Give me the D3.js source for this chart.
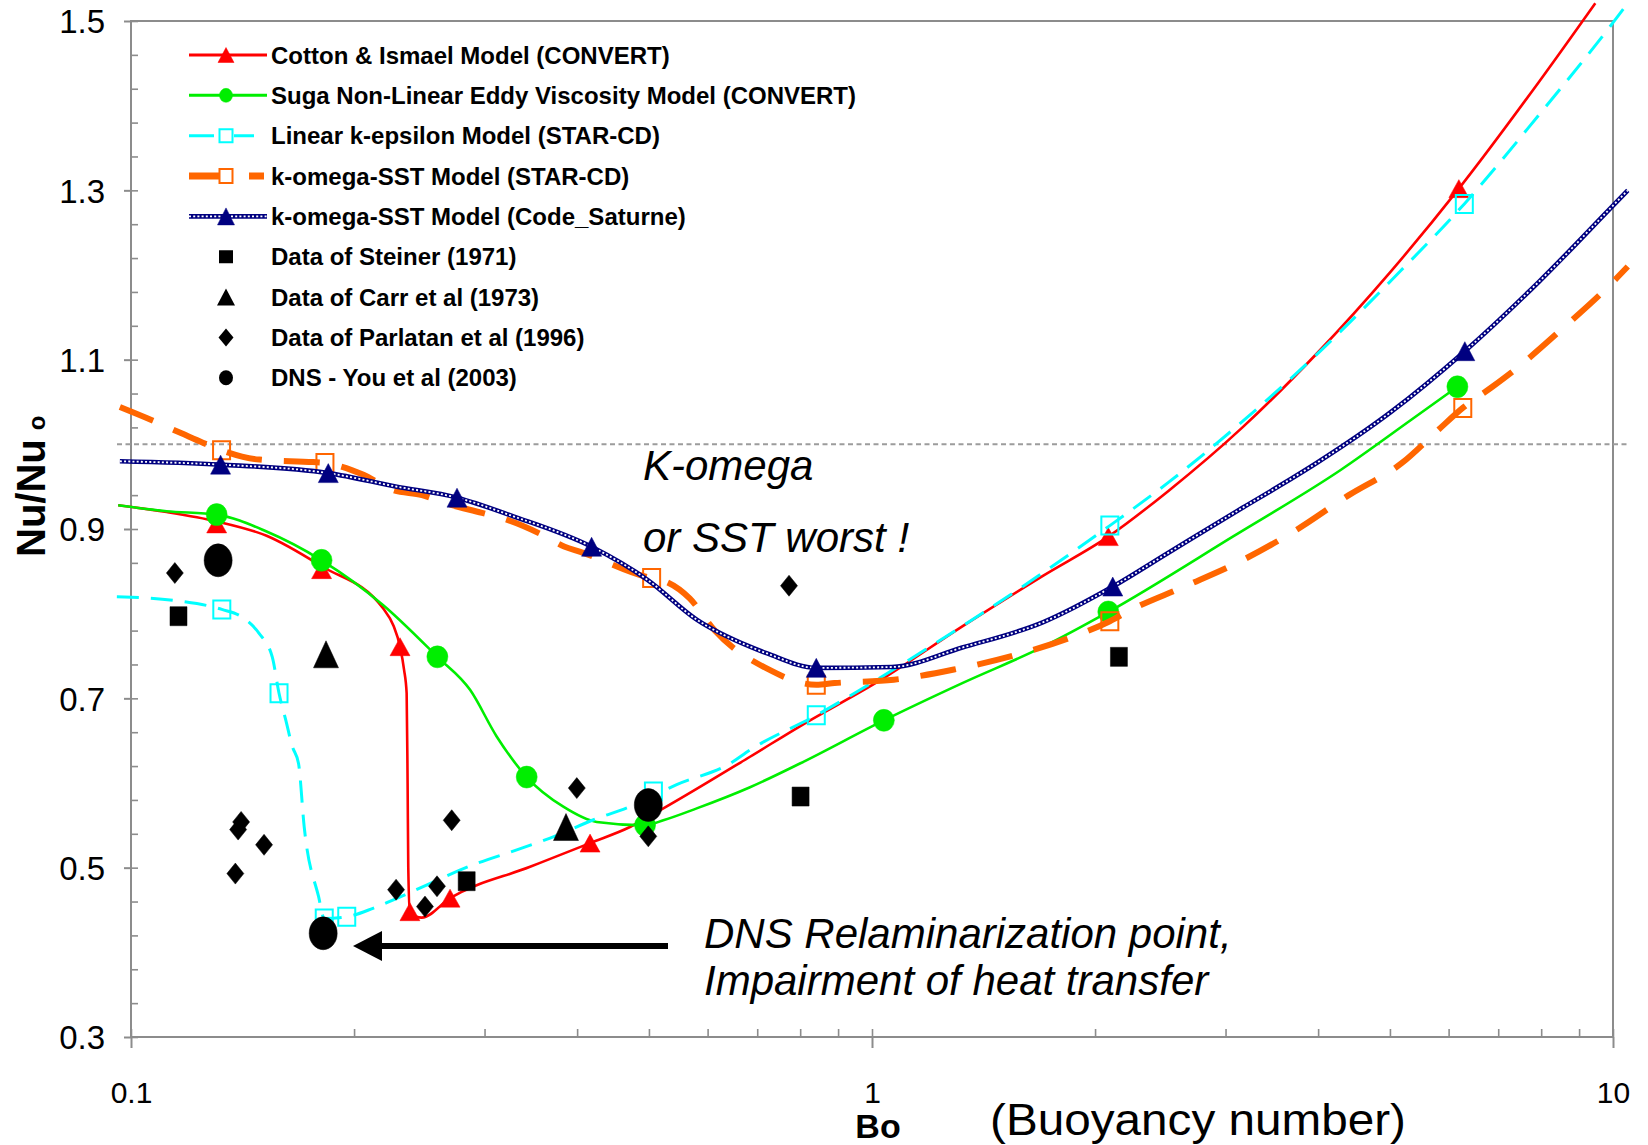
<!DOCTYPE html>
<html>
<head>
<meta charset="utf-8">
<script src="https://cdn.jsdelivr.net/npm/d3@7"></script>
<style>
  html, body { margin: 0; padding: 0; background: #fff; }
  svg { display: block; }
</style>
</head>
<body>
<svg id="chart" width="1648" height="1145"></svg>
<script>
// ── Data: [Bo, Nu/Nu0] ──────────────────────────────────
const cottonLine = [[0.0961,0.928],[0.1117,0.920],[0.1305,0.909],[0.1524,0.892],[0.1808,0.856],[0.219,0.806],
  [0.226,0.786],[0.2307,0.761],[0.2336,0.734],[0.2355,0.706],[0.2362,0.60],[0.2367,0.50],[0.2379,0.446],
  [0.2468,0.441],[0.2695,0.464],[0.3456,0.501],[0.4164,0.529],[0.4714,0.548],[0.5229,0.570],[0.6845,0.631],
  [0.7993,0.667],[1.029,0.722],[1.324,0.785],[1.703,0.845],[2.084,0.891],[2.512,0.945],[3.162,1.020],
  [3.981,1.107],[5.012,1.204],[6.194,1.302],[7.943,1.428],[9.465,1.521]];
const cottonPts = [[0.1305,0.906],[0.1808,0.852],[0.2307,0.761],[0.2379,0.448],[0.2695,0.464],[0.4164,0.529],[2.084,0.891],[6.194,1.302]];

const sugaLine = [[0.0961,0.928],[0.1117,0.921],[0.1305,0.917],[0.1524,0.897],[0.1808,0.863],[0.219,0.810],
  [0.2591,0.749],[0.2868,0.710],[0.3115,0.655],[0.342,0.607],[0.3832,0.572],[0.4251,0.554],[0.494,0.550],
  [0.5229,0.556],[0.580,0.570],[0.6845,0.595],[0.7993,0.623],[1.0375,0.674],[1.324,0.718],[1.703,0.761],
  [2.084,0.802],[3.068,0.891],[4.295,0.970],[5.343,1.029],[6.166,1.068]];
const sugaPts = [[0.1305,0.917],[0.1808,0.863],[0.2591,0.749],[0.342,0.607],[0.494,0.550],[1.0375,0.674],[2.084,0.802],[6.166,1.068]];

const kepsLine = [[0.0957,0.820],[0.1159,0.815],[0.1326,0.805],[0.1418,0.795],[0.1488,0.777],[0.1551,0.749],
  [0.1584,0.706],[0.1618,0.674],[0.1651,0.643],[0.1683,0.623],[0.1713,0.548],[0.1791,0.466],[0.1823,0.440],
  [0.1955,0.442],[0.2121,0.452],[0.226,0.462],[0.2928,0.505],[0.3316,0.521],[0.3678,0.535],[0.4251,0.558],
  [0.4714,0.572],[0.507,0.585],[0.545,0.598],[0.6433,0.623],[0.6845,0.639],[0.841,0.680],[1.178,0.757],
  [1.647,0.840],[2.094,0.904],[2.512,0.955],[3.162,1.027],[3.981,1.106],[5.012,1.193],[6.30,1.284],
  [7.943,1.389],[10.0,1.498],[10.47,1.521]];
const kepsPts = [[0.1326,0.805],[0.1584,0.706],[0.1823,0.440],[0.1955,0.442],[0.507,0.590],[0.841,0.680],[2.094,0.904],[6.30,1.284]];

const sstStarLine = [[0.0966,1.044],[0.105,1.031],[0.117,1.013],[0.125,1.002],[0.1325,0.993],[0.149,0.982],
  [0.176,0.979],[0.1827,0.978],[0.206,0.964],[0.2256,0.946],[0.247,0.940],[0.2665,0.930],[0.2977,0.919],
  [0.3214,0.911],[0.3592,0.893],[0.3849,0.879],[0.404,0.873],[0.5042,0.842],[0.5186,0.840],[0.5675,0.818],
  [0.6135,0.780],[0.722,0.735],[0.841,0.716],[0.89,0.718],[1.07,0.722],[1.29,0.734],[1.56,0.751],
  [1.87,0.773],[2.094,0.791],[2.23,0.804],[2.64,0.832],[3.16,0.863],[3.74,0.899],[4.40,0.940],[5.19,0.978],
  [5.81,1.017],[6.27,1.043],[6.874,1.068],[7.417,1.090],[8.554,1.137],[9.95,1.190],[10.47,1.210]];
const sstStarPts = [[0.1325,0.993],[0.1827,0.978],[0.5042,0.842],[0.841,0.716],[2.094,0.791],[6.27,1.043]];

const saturneLine = [[0.0966,0.980],[0.1321,0.976],[0.1846,0.966],[0.2284,0.950],[0.2754,0.937],[0.3281,0.915],
  [0.4184,0.879],[0.4977,0.840],[0.580,0.793],[0.6845,0.761],[0.722,0.753],[0.841,0.736],[1.064,0.737],
  [1.324,0.760],[1.703,0.790],[2.113,0.832],[2.512,0.872],[3.162,0.925],[3.548,0.951],[3.981,0.978],
  [5.012,1.038],[6.31,1.110],[7.943,1.192],[10.0,1.282],[10.47,1.300]];
const saturnePts = [[0.1321,0.976],[0.1846,0.966],[0.2754,0.937],[0.4184,0.879],[0.841,0.736],[2.113,0.832],[6.31,1.110]];

const steinerPts  = [[0.1159,0.797],[0.2838,0.484],[0.801,0.584],[2.154,0.749]];
const carrPts     = [[0.1833,0.752],[0.3864,0.548]];
const parlatanPts = [[0.1146,0.848],[0.1408,0.554],[0.1395,0.545],[0.1512,0.527],[0.1383,0.493],[0.2279,0.474],
  [0.2493,0.454],[0.2588,0.478],[0.2709,0.556],[0.3996,0.594],[0.4990,0.537],[0.7727,0.833]];
const dnsPts      = [[0.1311,0.863],[0.1817,0.4225],[0.499,0.574]];

const legendLabels = [
  'Cotton & Ismael Model (CONVERT)',
  'Suga Non-Linear Eddy Viscosity Model (CONVERT)',
  'Linear k-epsilon Model (STAR-CD)',
  'k-omega-SST Model (STAR-CD)',
  'k-omega-SST Model (Code_Saturne)',
  'Data of Steiner (1971)',
  'Data of Carr et al (1973)',
  'Data of Parlatan et al (1996)',
  'DNS - You et al (2003)'
];
const xTicks = [0.1, 1, 10];
const yTicks = [0.3, 0.5, 0.7, 0.9, 1.1, 1.3, 1.5];
const notesTop = ['K-omega', 'or SST worst !'];
const notesDns = ['DNS Relaminarization point,', 'Impairment of heat transfer'];

// ── Layout ──────────────────────────────────────────────
const W = 1648, H = 1145;
const m = { l: 131, r: 35, t: 21, b: 108 };
const FONT = "'Liberation Sans', Arial, Helvetica, sans-serif";
const GRAY = '#8c8c8c';

const svg = d3.select('#chart');
svg.append('rect').attr('width', W).attr('height', H).attr('fill', '#fff');

const x = d3.scaleLog().domain([0.1, 10]).range([m.l, W - m.r]);
const y = d3.scaleLinear().domain([0.3, 1.5]).range([H - m.b, m.t]);

// ── Marker shapes (bbox centred) ────────────────────────
const shapes = {
  triangle: (w, h) => `M0,${-h/2}L${w/2},${h/2}L${-w/2},${h/2}Z`,
  square:   (w, h) => `M${-w/2},${-h/2}h${w}v${h}h${-w}Z`,
  diamond:  (w, h) => `M0,${-h/2}L${w/2},0L0,${h/2}L${-w/2},0Z`,
  circle:   (w, h) => `M${-w/2},0a${w/2},${h/2} 0 1,0 ${w},0a${w/2},${h/2} 0 1,0 ${-w},0Z`
};

// ── Frame, ticks, reference line ────────────────────────
svg.append('rect')
  .attr('x', m.l).attr('y', m.t)
  .attr('width', x.range()[1] - m.l).attr('height', y.range()[0] - m.t)
  .attr('fill', 'none').attr('stroke', GRAY).attr('stroke-width', 2);

svg.append('line')
  .attr('x1', m.l - 14).attr('x2', x.range()[1] + 14)
  .attr('y1', y(1)).attr('y2', y(1))
  .attr('stroke', '#9c9c9c').attr('stroke-width', 2).attr('stroke-dasharray', '5,3.5');

const gx = svg.append('g').attr('transform', `translate(0,${y.range()[0]})`)
  .call(d3.axisBottom(x).tickValues(xTicks).tickSize(11).tickFormat(d3.format('~g')));
gx.select('.domain').remove();
gx.selectAll('line').attr('stroke', GRAY).attr('stroke-width', 2);
gx.selectAll('text').attr('y', 66).attr('dy', null)
  .attr('font-family', FONT).attr('font-size', 30).attr('fill', '#000');

const gxi = svg.append('g').attr('transform', `translate(0,${y.range()[0]})`)
  .call(d3.axisTop(x).tickValues(x.ticks()).tickSize(8).tickFormat(''));
gxi.select('.domain').remove();
gxi.selectAll('line').attr('stroke', GRAY).attr('stroke-width', 1.6);

const gy = svg.append('g').attr('transform', `translate(${m.l},0)`)
  .call(d3.axisLeft(y).tickValues(yTicks).tickSize(7).tickPadding(19).tickFormat(d3.format('.1f')));
gy.select('.domain').remove();
gy.selectAll('line').attr('stroke', GRAY).attr('stroke-width', 2);
gy.selectAll('text').attr('font-family', FONT).attr('font-size', 33).attr('fill', '#000').attr('dy', '0.36em');

const yMinor = d3.range(0, 31).map(i => +(0.3 + i * 0.04).toFixed(2));
const gyi = svg.append('g').attr('transform', `translate(${m.l},0)`)
  .call(d3.axisRight(y).tickValues(yMinor).tickSize(7).tickFormat(''));
gyi.select('.domain').remove();
gyi.selectAll('line').attr('stroke', GRAY).attr('stroke-width', 1.6);

// ── Axis titles ─────────────────────────────────────────
svg.append('text').attr('x', 878).attr('y', 1138).attr('text-anchor', 'middle')
  .attr('font-family', FONT).attr('font-weight', 'bold').attr('font-size', 34).text('Bo');
svg.append('text').attr('x', 990).attr('y', 1135)
  .attr('font-family', FONT).attr('font-size', 44)
  .attr('textLength', 416).attr('lengthAdjust', 'spacingAndGlyphs')
  .text('(Buoyancy number)');

const yl = svg.append('text').attr('transform', 'translate(45,557) rotate(-90)')
  .attr('font-family', FONT).attr('font-weight', 'bold').attr('font-size', 40);
yl.append('tspan').text('Nu/Nu');
yl.append('tspan').attr('dx', 9).attr('font-size', 24).text('o');

// ── Model series ────────────────────────────────────────
const models = [
  { line: cottonLine,  pts: cottonPts,  color: '#ff0000', width: 2.6, shape: 'triangle', mw: 20, mh: 18, fill: true },
  { line: sugaLine,    pts: sugaPts,    color: '#00ee00', width: 2.6, shape: 'circle',   mw: 21, mh: 22, fill: true },
  { line: kepsLine,    pts: kepsPts,    color: '#00ffff', width: 3,   dash: '22,12', shape: 'square', mw: 17, mh: 18, fill: false },
  { line: sstStarLine, pts: sstStarPts, color: '#ff6600', width: 6,   dash: '36,22', shape: 'square', mw: 17, mh: 18, fill: false },
  { line: saturneLine, pts: saturnePts, color: '#000080', width: 4.6, chain: true, shape: 'triangle', mw: 20, mh: 19, fill: true }
];

const lineGen = d3.line().x(d => x(d[0])).y(d => y(d[1])).curve(d3.curveMonotoneX);

function strokeLine(g, d, s) {
  const p = g.append('path').attr('d', d).attr('fill', 'none')
    .attr('stroke', s.color).attr('stroke-width', s.width);
  if (s.dash) p.attr('stroke-dasharray', s.dash);
  if (s.chain) {
    g.append('path').attr('d', d).attr('fill', 'none')
      .attr('stroke', '#fff').attr('stroke-width', 1.8).attr('stroke-dasharray', '2,2.2');
  }
}

function drawMarkers(g, pts, shape, w, h, color, fill) {
  g.selectAll(null).data(pts).join('path')
    .attr('transform', d => `translate(${x(d[0])},${y(d[1])})`)
    .attr('d', shapes[shape](w, h))
    .attr('fill', fill ? color : 'none')
    .attr('stroke', color).attr('stroke-width', fill ? 0.5 : 2);
}

const gSeries = svg.append('g');
models.forEach(s => {
  const g = gSeries.append('g');
  strokeLine(g, lineGen(s.line), s);
  drawMarkers(g, s.pts, s.shape, s.mw, s.mh, s.color, s.fill);
});

// ── Experimental / DNS data ─────────────────────────────
const dataSets = [
  { pts: steinerPts,  shape: 'square',   mw: 17, mh: 19 },
  { pts: carrPts,     shape: 'triangle', mw: 25, mh: 27 },
  { pts: parlatanPts, shape: 'diamond',  mw: 17, mh: 21 },
  { pts: dnsPts,      shape: 'circle',   mw: 28, mh: 33 }
];
dataSets.forEach(s => drawMarkers(svg.append('g'), s.pts, s.shape, s.mw, s.mh, '#000', true));

// ── Legend ──────────────────────────────────────────────
const legY0 = 55, legDY = 40.35, legX1 = 189, legX2 = 267, legMX = 226, legTX = 271;
const legStyles = [
  { ...models[0], lw: 3 },
  { ...models[1], lw: 3 },
  { ...models[2], lw: 3, x2: 255, dash: '25,20,20' },
  { ...models[3], lw: 7, dash: '37,23,15,10' },
  { ...models[4], lw: 4.6 }
];
const legMarks = [[16, 15], [13, 14], [13, 13], [13, 14], [17, 17]];
const legData = [['square', 14, 13], ['triangle', 18, 17], ['diamond', 15, 18], ['circle', 14, 15]];

const gLeg = svg.append('g');
legendLabels.forEach((label, i) => {
  const cy = legY0 + i * legDY;
  const g = gLeg.append('g');
  if (i < 5) {
    const s = legStyles[i];
    const d = `M${legX1},${cy}L${s.x2 || legX2},${cy}`;
    strokeLine(g, d, { ...s, width: s.lw });
    g.append('path').attr('transform', `translate(${legMX},${cy})`)
      .attr('d', shapes[s.shape](legMarks[i][0], legMarks[i][1]))
      .attr('fill', s.fill ? s.color : '#fff')
      .attr('stroke', s.color).attr('stroke-width', s.fill ? 0.5 : 2);
  } else {
    const [sh, w, h] = legData[i - 5];
    g.append('path').attr('transform', `translate(${legMX},${cy})`)
      .attr('d', shapes[sh](w, h)).attr('fill', '#000');
  }
  g.append('text').attr('x', legTX).attr('y', cy + 8.5)
    .attr('font-family', FONT).attr('font-weight', 'bold').attr('font-size', 24)
    .text(label);
});

// ── Annotations ─────────────────────────────────────────
svg.selectAll(null).data(notesTop).join('text')
  .attr('x', 643).attr('y', (d, i) => 480 + i * 72)
  .attr('font-family', FONT).attr('font-style', 'italic').attr('font-size', 42)
  .text(d => d);

svg.selectAll(null).data(notesDns).join('text')
  .attr('x', 704).attr('y', (d, i) => 948 + i * 47)
  .attr('font-family', FONT).attr('font-style', 'italic').attr('font-size', 42)
  .text(d => d);

// arrow pointing at the DNS relaminarization point
svg.append('line').attr('x1', 668).attr('x2', 378).attr('y1', 946).attr('y2', 946)
  .attr('stroke', '#000').attr('stroke-width', 6);
svg.append('path').attr('d', 'M353,946L382,931L382,961Z').attr('fill', '#000');
</script>
</body>
</html>
